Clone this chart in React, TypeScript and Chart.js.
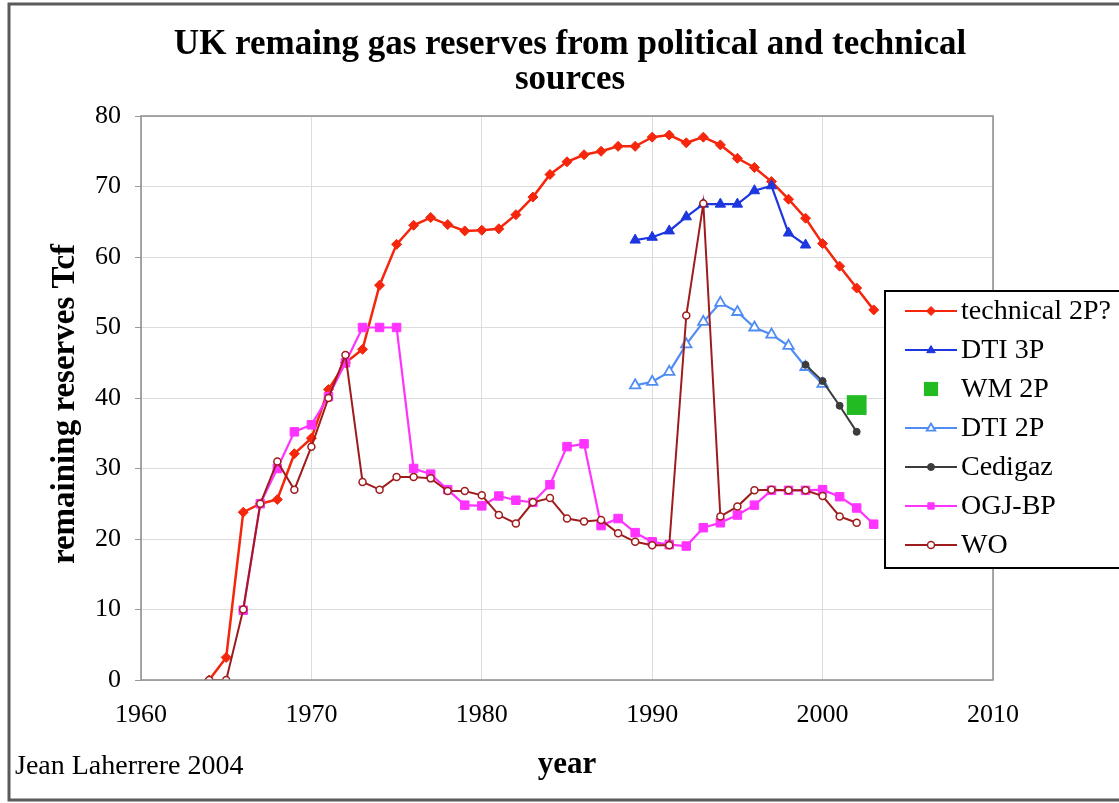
import React, { useEffect, useRef } from "react";
import { Chart, registerables } from "chart.js";
Chart.register(...registerables);

// ---- data ----
const technicalStart = 1964;
const technical2P = [0, 3.2, 23.8, 25, 25.6, 32.1, 34.3, 41.2, 45.0, 46.9, 56.0, 61.8, 64.5, 65.6, 64.6, 63.7, 63.8, 64.0, 66.0, 68.5, 71.7, 73.5, 74.5, 75.0, 75.7, 75.7, 77.0, 77.3, 76.2, 77.0, 75.9, 74.0, 72.7, 70.7, 68.2, 65.5, 61.9, 58.7, 55.6, 52.5];

const dti3PStart = 1989;
const dti3P = [62.4, 62.8, 63.7, 65.7, 67.5, 67.5, 67.5, 69.4, 70.1, 63.4, 61.7];

const wm2PStart = 2002;
const wm2P = [39.0];

const dti2PStart = 1989;
const dti2P = [41.8, 42.3, 43.7, 47.6, 50.8, 53.5, 52.2, 50.0, 49.0, 47.4, 44.4, 42.0];

const cedigazStart = 1999;
const cedigaz = [44.7, 42.4, 38.9, 35.2];

const ogjStart = 1966;
const ogjBP = [9.9, 25, 30.0, 35.2, 36.2, 40.2, 45.0, 50, 50, 50, 30, 29.2, 27, 24.8, 24.7, 26.1, 25.5, 25.2, 27.7, 33.1, 33.5, 21.9, 22.9, 20.9, 19.6, 19.2, 19.0, 21.6, 22.3, 23.4, 24.8, 26.9, 26.9, 26.9, 27.0, 26.0, 24.4, 22.1];

const woStart = 1964;
const wo = [0, 0, 10, 25, 31.0, 27.0, 33.1, 40.0, 46.1, 28.1, 27.0, 28.8, 28.8, 28.6, 26.8, 26.8, 26.2, 23.4, 22.2, 25.2, 25.8, 22.9, 22.5, 22.7, 20.8, 19.6, 19.1, 19.1, 51.7, 67.6, 23.2, 24.6, 26.9, 27.0, 26.9, 26.9, 26.1, 23.2, 22.3];

const xTickValues = [1960, 1970, 1980, 1990, 2000, 2010];
const yTickValues = [0, 10, 20, 30, 40, 50, 60, 70, 80];

const titleLines = ["UK remaing gas reserves from political and technical", "sources"];
const yTitle = "remaining reserves Tcf";
const xTitle = "year";
const credit = "Jean Laherrere 2004";

const SERIF = "'Liberation Serif', 'Times New Roman', serif";

function pts(start: number, values: number[]) {
  return values.map((v, i) => ({ x: start + i, y: v }));
}

function drawMarker(ctx: CanvasRenderingContext2D, style: string, x: number, y: number, r: number, fill: string, stroke: string, bw: number) {
  ctx.save();
  ctx.beginPath();
  if (style === "rectRot") {
    ctx.moveTo(x, y - r);
    ctx.lineTo(x + r, y);
    ctx.lineTo(x, y + r);
    ctx.lineTo(x - r, y);
    ctx.closePath();
  } else if (style === "triangle") {
    ctx.moveTo(x, y - r);
    ctx.lineTo(x + r * 0.95, y + r * 0.6);
    ctx.lineTo(x - r * 0.95, y + r * 0.6);
    ctx.closePath();
  } else if (style === "rect") {
    const s = r * Math.SQRT1_2;
    ctx.rect(x - s, y - s, 2 * s, 2 * s);
  } else {
    ctx.arc(x, y, r, 0, Math.PI * 2);
  }
  ctx.fillStyle = fill;
  ctx.fill();
  if (bw > 0) {
    ctx.lineWidth = bw;
    ctx.strokeStyle = stroke;
    ctx.stroke();
  }
  ctx.restore();
}

const decorPlugin = {
  id: "decor",
  beforeDraw(chart: any) {
    const ctx = chart.ctx as CanvasRenderingContext2D;
    ctx.save();
    ctx.fillStyle = "#ffffff";
    ctx.fillRect(0, 0, chart.width, chart.height);
    // outer frame (left, top, bottom)
    ctx.strokeStyle = "#5a5a5a";
    ctx.lineWidth = 3;
    ctx.beginPath();
    ctx.moveTo(1119, 4);
    ctx.lineTo(9, 4);
    ctx.lineTo(9, 800);
    ctx.lineTo(1119, 800);
    ctx.stroke();
    ctx.restore();
  },
  afterDraw(chart: any) {
    const ctx = chart.ctx as CanvasRenderingContext2D;
    const a = chart.chartArea;
    ctx.save();
    // plot border
    ctx.strokeStyle = "#8c8c8c";
    ctx.lineWidth = 1.5;
    ctx.strokeRect(a.left, a.top, a.right - a.left, a.bottom - a.top);

    // title
    ctx.fillStyle = "#000";
    ctx.textAlign = "center";
    ctx.textBaseline = "middle";
    ctx.font = `bold 35px ${SERIF}`;
    ctx.fillText(titleLines[0], 570, 45);
    ctx.fillText(titleLines[1], 570, 80);

    // x title
    ctx.font = `bold 31px ${SERIF}`;
    ctx.fillText(xTitle, 567, 765);

    // y title
    ctx.save();
    ctx.translate(65, 404);
    ctx.rotate(-Math.PI / 2);
    ctx.font = `bold 33px ${SERIF}`;
    ctx.fillText(yTitle, 0, 0);
    ctx.restore();

    // credit
    ctx.textAlign = "left";
    ctx.font = `28px ${SERIF}`;
    ctx.fillText(credit, 15, 767);

    // legend
    const lx = 885, ly = 291, lw = 260, lh = 277;
    ctx.fillStyle = "#fff";
    ctx.fillRect(lx, ly, lw, lh);
    ctx.strokeStyle = "#000";
    ctx.lineWidth = 2;
    ctx.strokeRect(lx, ly, lw, lh);
    chart.data.datasets.forEach((ds: any, i: number) => {
      const y = 311 + i * 39;
      if (ds.showLine !== false) {
        ctx.strokeStyle = ds.borderColor;
        ctx.lineWidth = Math.min(ds.borderWidth, 2);
        ctx.beginPath();
        ctx.moveTo(905, y);
        ctx.lineTo(957, y);
        ctx.stroke();
      }
      const r = ds.showLine === false ? 10 : Math.min(ds.pointRadius, 4.5);
      drawMarker(ctx, ds.pointStyle, 931, y, r, ds.pointBackgroundColor, ds.pointBorderColor, ds.pointBorderWidth);
      ctx.fillStyle = "#000";
      ctx.textAlign = "left";
      ctx.textBaseline = "middle";
      ctx.font = `28px ${SERIF}`;
      ctx.fillText(ds.label, 961, y + 1);
    });
    ctx.restore();
  },
};

function makeDataset(label: string, data: any[], color: string, style: string, radius: number, fill: string, bw: number, lineWidth: number, showLine = true, order = 0) {
  return {
    label,
    data,
    borderColor: color,
    backgroundColor: color,
    borderWidth: lineWidth,
    pointStyle: style,
    pointRadius: radius,
    pointBackgroundColor: fill,
    pointBorderColor: color,
    pointBorderWidth: bw,
    pointHoverRadius: radius,
    showLine,
    tension: 0,
    order,
  };
}

export default function App() {
  const ref = useRef<HTMLCanvasElement | null>(null);
  useEffect(() => {
    if (!ref.current) return;
    const datasets = [
      makeDataset("technical 2P?", pts(technicalStart, technical2P), "#f5260c", "rectRot", 5, "#f5260c", 1, 2.5, true, 6),
      makeDataset("DTI 3P", pts(dti3PStart, dti3P), "#1c36e0", "triangle", 6, "#1c36e0", 1, 2.2, true, 5),
      makeDataset("WM 2P", pts(wm2PStart, wm2P), "#22bb22", "rect", 14, "#22bb22", 0, 0, false, 4),
      makeDataset("DTI 2P", pts(dti2PStart, dti2P), "#4f8df5", "triangle", 6, "#ffffff", 1.8, 2.2, true, 3),
      makeDataset("Cedigaz", pts(cedigazStart, cedigaz), "#3c3c3c", "circle", 3.5, "#3c3c3c", 1, 2, true, 2),
      makeDataset("OGJ-BP", pts(ogjStart, ogjBP), "#ff33ff", "rect", 6, "#ff33ff", 1, 2.2, true, 1),
      makeDataset("WO", pts(woStart, wo), "#a01c1c", "circle", 3.5, "#ffffff", 1.5, 2, true, 0),
    ];
    const chart = new Chart(ref.current, {
      type: "line",
      data: { datasets },
      plugins: [decorPlugin],
      options: {
        animation: false,
        responsive: false,
        maintainAspectRatio: false,
        layout: { padding: { left: 0, right: 126, top: 116, bottom: 0 } },
        plugins: { legend: { display: false }, title: { display: false }, tooltip: { enabled: false } },
        scales: {
          x: {
            type: "linear",
            min: 1960,
            max: 2010,
            afterFit: (s: any) => { s.height = 123; },
            afterBuildTicks: (s: any) => { s.ticks = xTickValues.map((v) => ({ value: v })); },
            grid: { color: "#dcdcdc", lineWidth: 1, drawTicks: false },
            border: { display: false },
            ticks: { font: { family: SERIF, size: 26 }, color: "#000", padding: 20, maxRotation: 0, callback: (v: any) => String(v) },
          },
          y: {
            type: "linear",
            min: 0,
            max: 80,
            afterFit: (s: any) => { s.width = 141; },
            afterBuildTicks: (s: any) => { s.ticks = yTickValues.map((v) => ({ value: v })); },
            grid: { color: "#dcdcdc", lineWidth: 1, drawTicks: true, tickLength: 6, tickColor: "#999" },
            border: { display: false },
            ticks: { font: { family: SERIF, size: 26 }, color: "#000", padding: 14, callback: (v: any) => String(v) },
          },
        },
      } as any,
    });
    return () => chart.destroy();
  }, []);
  return (
    <div style={{ position: "absolute", left: 0, top: 0, width: 1119, height: 803 }}>
      <canvas ref={ref} width={1119} height={803} style={{ width: 1119, height: 803, display: "block" }} />
    </div>
  );
}
